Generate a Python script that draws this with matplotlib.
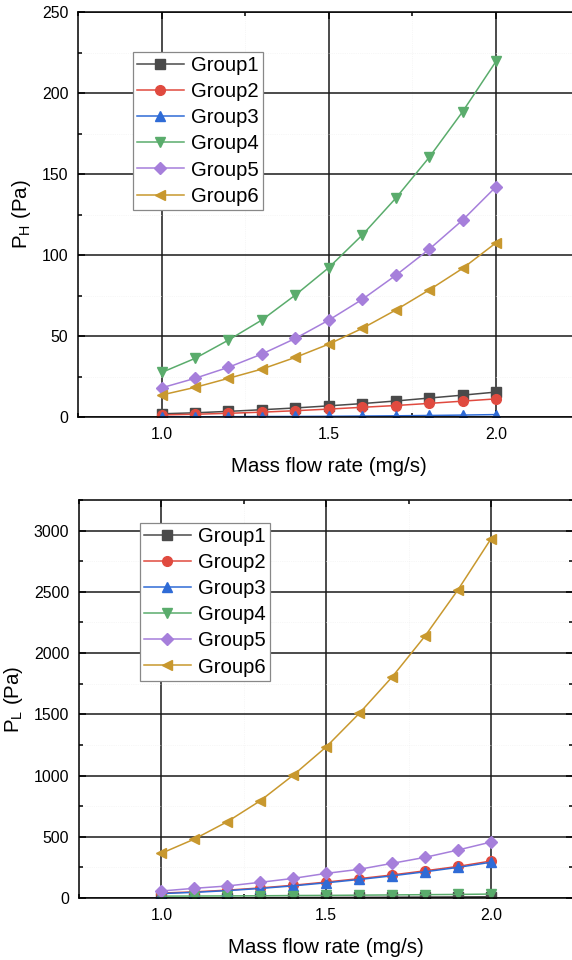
import numpy as np
import matplotlib
matplotlib.use("Agg")
import matplotlib.pyplot as plt
from matplotlib.ticker import MultipleLocator

plt.rcParams['font.family'] = ['Liberation Sans', 'DejaVu Sans']
plt.rcParams['mathtext.default'] = 'regular'

# Mass flow rate (mg/s)
flowRate = [1.0, 1.1, 1.2, 1.3, 1.4, 1.5, 1.6, 1.7, 1.8, 1.9, 2.0]

groupNames = ["Group1", "Group2", "Group3", "Group4", "Group5", "Group6"]

# P_H (Pa)
presH1 = [2.0, 2.6, 3.5, 4.5, 5.6, 6.9, 8.3, 9.9, 11.7, 13.5, 15.4]
presH2 = [1.3, 1.7, 2.3, 3.0, 3.9, 4.9, 6.0, 7.1, 8.4, 9.8, 11.2]
presH3 = [0.1, 0.15, 0.2, 0.3, 0.35, 0.45, 0.6, 0.75, 0.95, 1.2, 1.5]
presH4 = [27.5, 36.2, 47.5, 59.9, 75.3, 92.2, 112.3, 135.0, 160.2, 188.4, 219.5]
presH5 = [18.0, 23.9, 30.7, 38.9, 48.5, 59.8, 72.6, 87.4, 103.5, 121.5, 142.1]
presH6 = [13.6, 18.3, 23.9, 29.6, 36.8, 45.0, 54.7, 66.0, 78.4, 91.7, 107.5]

# P_L (Pa)
presL1 = [1.5, 1.9, 2.4, 3.0, 3.7, 4.5, 5.4, 6.4, 7.6, 8.9, 10.3]
presL2 = [40, 50, 64, 82, 104, 130, 158, 188, 222, 258, 302]
presL3 = [36, 46, 60, 78, 99, 124, 151, 181, 214, 250, 292]
presL4 = [15, 16, 17, 18, 20, 21, 23, 25, 27, 29, 32]
presL5 = [57, 79, 98, 128, 160, 201, 234, 283, 332, 392, 457]
presL6 = [365, 481, 623, 794, 1003, 1234, 1507, 1805, 2140, 2518, 2934]

colors  = ["#4a4a4a", "#e04a3f", "#2f6bd6", "#5aac6c", "#a67fdb", "#c8982e"]
markers = ["s", "o", "^", "v", "D", "<"]
msizes  = [6.5, 7, 7.5, 7.5, 6, 7.5]

#------------------------------------------------------------------------------#

fig = plt.figure(figsize=(5.72, 9.6), dpi=100)
axTop = fig.add_axes([0.1364, 0.5656, 0.8768, 0.4219])
axBot = fig.add_axes([0.1381, 0.0646, 0.8645, 0.4146])

panels = [
    (axTop, [presH1, presH2, presH3, presH4, presH5, presH6],
     "P$_H$ (Pa)", 250, 50, 25, (0.1097, 0.901)),
    (axBot, [presL1, presL2, presL3, presL4, presL5, presL6],
     "P$_L$ (Pa)", 3250, 500, 250, (0.1234, 0.942)),
]

for ax, series, ylabel, ymax, ymaj, ymin, legPos in panels:

    for iGrp in range(len(groupNames)):
        ax.plot(flowRate, series[iGrp], color=colors[iGrp],
                marker=markers[iGrp], markersize=msizes[iGrp],
                linewidth=1.1, label=groupNames[iGrp])

    ax.set_xlim(0.75, 2.25)
    ax.set_ylim(0, ymax)
    ax.xaxis.set_major_locator(MultipleLocator(0.5))
    ax.xaxis.set_minor_locator(MultipleLocator(0.25))
    ax.yaxis.set_major_locator(MultipleLocator(ymaj))
    ax.yaxis.set_minor_locator(MultipleLocator(ymin))
    ax.xaxis.set_major_formatter(matplotlib.ticker.FormatStrFormatter("%.1f"))

    ax.grid(which="major", color="#1a1a1a", linewidth=1.1)
    ax.grid(which="minor", color="#efefef", linewidth=0.5, linestyle=":")
    ax.set_axisbelow(True)

    ax.tick_params(which="both", direction="in", top=True, right=True,
                   labelsize=11.4, width=1.1)
    ax.tick_params(which="major", length=5, pad=7)
    ax.tick_params(which="minor", length=3)
    for spine in ax.spines.values():
        spine.set_linewidth(1.1)

    ax.set_xlabel("Mass flow rate (mg/s)", fontsize=14.8, labelpad=11)
    ax.set_ylabel(ylabel, fontsize=14.8, labelpad=6)

    leg = ax.legend(loc="upper left", bbox_to_anchor=legPos, borderaxespad=0,
                    fontsize=14.6, fancybox=False, framealpha=1,
                    edgecolor="#888888", handlelength=2.3, handletextpad=0.35,
                    labelspacing=0.35, borderpad=0.2)
    leg.get_frame().set_linewidth(0.9)

fig.savefig("out.png", dpi=100)
